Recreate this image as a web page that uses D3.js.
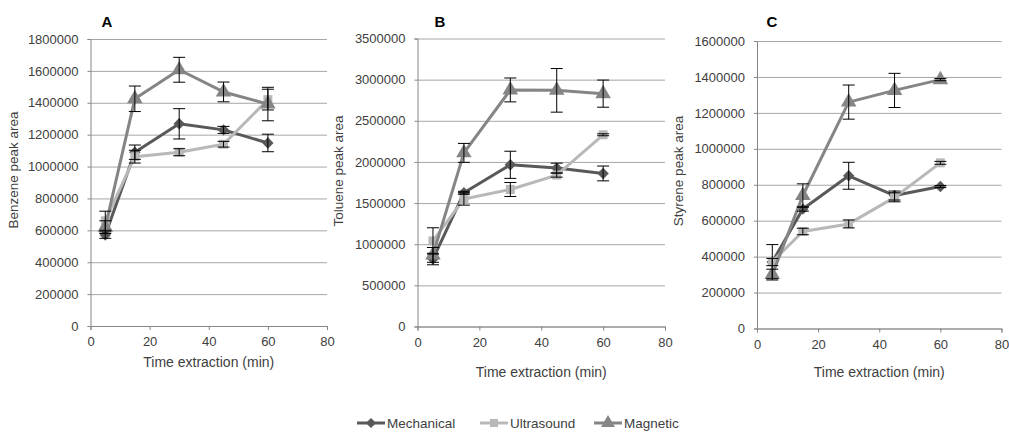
<!DOCTYPE html>
<html lang="en">
<head>
<meta charset="UTF-8">
<title>Peak area vs extraction time</title>
<script src="https://d3js.org/d3.v7.min.js"></script>
<style>
  body { margin: 0; background: #fff; }
  svg text { font-family: 'Liberation Sans', Arial, sans-serif; fill: #404040; }
</style>
</head>
<body>
<div id="chart"></div>
<script>
// x values shared by every series
const times = [5, 15, 30, 45, 60];
const xTicks = [0, 20, 40, 60, 80];
const seriesNames = ['Mechanical', 'Ultrasound', 'Magnetic'];

// A - benzene
const benzeneMechanical = [570000, 1090000, 1268000, 1230000, 1148000];
const benzeneMechanicalErr = [20000, 45000, 95000, 22000, 55000];
const benzeneUltrasound = [660000, 1062000, 1090000, 1140000, 1420000];
const benzeneUltrasoundErr = [60000, 40000, 22000, 18000, 65000];
const benzeneMagnetic = [620000, 1425000, 1607000, 1468000, 1392000];
const benzeneMagneticErr = [40000, 80000, 78000, 62000, 105000];
const benzeneTicks = [0, 200000, 400000, 600000, 800000, 1000000, 1200000, 1400000, 1600000, 1800000];

// B - toluene
const tolueneMechanical = [820000, 1625000, 1965000, 1925000, 1860000];
const tolueneMechanicalErr = [70000, 18000, 165000, 60000, 90000];
const tolueneUltrasound = [1040000, 1550000, 1665000, 1840000, 2330000];
const tolueneUltrasoundErr = [160000, 75000, 85000, 25000, 12000];
const tolueneMagnetic = [870000, 2110000, 2875000, 2870000, 2830000];
const tolueneMagneticErr = [90000, 115000, 145000, 265000, 165000];
const tolueneTicks = [0, 500000, 1000000, 1500000, 2000000, 2500000, 3000000, 3500000];

// C - styrene
const styreneMechanical = [370000, 665000, 850000, 740000, 790000];
const styreneMechanicalErr = [20000, 12000, 75000, 25000, 6000];
const styreneUltrasound = [372000, 540000, 582000, 730000, 922000];
const styreneUltrasoundErr = [95000, 18000, 22000, 25000, 8000];
const styreneMagnetic = [300000, 740000, 1260000, 1325000, 1385000];
const styreneMagneticErr = [30000, 65000, 95000, 95000, 6000];
const styreneTicks = [0, 200000, 400000, 600000, 800000, 1000000, 1200000, 1400000, 1600000];

const colors = ['#595959', '#b8b8b8', '#858585'];
const symbols = [d3.symbolSquare, d3.symbolSquare, d3.symbolTriangle];
const symbolSizes = [65, 80, 105];
const rotations = [45, 0, 0];

const panels = [
  { title: 'A', ylabel: 'Benzene peak area', ticks: benzeneTicks,
    data: [[benzeneMechanical, benzeneMechanicalErr], [benzeneUltrasound, benzeneUltrasoundErr], [benzeneMagnetic, benzeneMagneticErr]],
    left: 90.5, right: 327, top: 39, bottom: 326, titleX: 107, ylabelX: 18, ylabelY: 170, xlabelY: 367 },
  { title: 'B', ylabel: 'Toluene peak area', ticks: tolueneTicks,
    data: [[tolueneMechanical, tolueneMechanicalErr], [tolueneUltrasound, tolueneUltrasoundErr], [tolueneMagnetic, tolueneMagneticErr]],
    left: 417.5, right: 665, top: 38.5, bottom: 326.5, titleX: 440, ylabelX: 343, ylabelY: 171, xlabelY: 377 },
  { title: 'C', ylabel: 'Styrene peak area', ticks: styreneTicks,
    data: [[styreneMechanical, styreneMechanicalErr], [styreneUltrasound, styreneUltrasoundErr], [styreneMagnetic, styreneMagneticErr]],
    left: 757, right: 1001.5, top: 41, bottom: 328.5, titleX: 772, ylabelX: 683, ylabelY: 171, xlabelY: 377 }
];

const svg = d3.select('#chart').append('svg')
  .attr('width', 1009).attr('height', 432);

panels.forEach(p => {
  const x = d3.scaleLinear().domain([0, 80]).range([p.left, p.right]);
  const y = d3.scaleLinear().domain([0, d3.max(p.ticks)]).range([p.bottom, p.top]);
  const g = svg.append('g');

  // gridlines
  g.append('g')
    .attr('transform', `translate(${p.left},0)`)
    .call(d3.axisLeft(y).tickValues(p.ticks).tickSize(-(p.right - p.left)).tickFormat(''))
    .call(a => a.select('.domain').remove())
    .call(a => a.selectAll('line').attr('stroke', '#a6a6a6').attr('stroke-width', 1));

  // y axis
  g.append('g')
    .attr('transform', `translate(${p.left},0)`)
    .call(d3.axisLeft(y).tickValues(p.ticks).tickSize(3).tickPadding(9).tickFormat(d3.format('d')))
    .call(a => a.select('.domain').attr('stroke', '#868686'))
    .call(a => a.selectAll('line').attr('stroke', '#868686'))
    .call(a => a.selectAll('text').style('font-size', '13px').attr('fill', '#404040'));

  // x axis
  g.append('g')
    .attr('transform', `translate(0,${p.bottom})`)
    .call(d3.axisBottom(x).tickValues(xTicks).tickSize(4).tickPadding(7))
    .call(a => a.select('.domain').attr('stroke', '#868686'))
    .call(a => a.selectAll('line').attr('stroke', '#868686'))
    .call(a => a.selectAll('text').style('font-size', '13px').attr('fill', '#404040'));

  // series lines and markers
  p.data.forEach((s, i) => {
    const pts = times.map((t, k) => ({ t, v: s[0][k], e: s[1][k] }));
    g.append('path').datum(pts)
      .attr('fill', 'none').attr('stroke', colors[i]).attr('stroke-width', 3)
      .attr('stroke-linejoin', 'round')
      .attr('d', d3.line().x(d => x(d.t)).y(d => y(d.v)));
    g.selectAll(null).data(pts).enter().append('path')
      .attr('d', d3.symbol().type(symbols[i]).size(symbolSizes[i]))
      .attr('transform', d => `translate(${x(d.t)},${y(d.v)}) rotate(${rotations[i]})`)
      .attr('fill', colors[i]);
  });

  // error bars on top
  p.data.forEach(s => {
    const pts = times.map((t, k) => ({ t, v: s[0][k], e: s[1][k] }));
    const eb = g.selectAll(null).data(pts).enter().append('g').attr('stroke', '#000').attr('stroke-width', 1);
    eb.append('line')
      .attr('x1', d => x(d.t)).attr('x2', d => x(d.t))
      .attr('y1', d => y(d.v - d.e)).attr('y2', d => y(d.v + d.e));
    eb.append('line')
      .attr('x1', d => x(d.t) - 6).attr('x2', d => x(d.t) + 6)
      .attr('y1', d => y(d.v + d.e)).attr('y2', d => y(d.v + d.e));
    eb.append('line')
      .attr('x1', d => x(d.t) - 6).attr('x2', d => x(d.t) + 6)
      .attr('y1', d => y(d.v - d.e)).attr('y2', d => y(d.v - d.e));
  });

  // titles
  g.append('text').attr('x', p.titleX).attr('y', 27)
    .attr('text-anchor', 'middle').style('font-size', '15px').style('font-weight', 'bold')
    .style('fill', '#000').text(p.title);
  g.append('text')
    .attr('transform', `translate(${p.ylabelX},${p.ylabelY}) rotate(-90)`)
    .attr('text-anchor', 'middle').style('font-size', '13.5px').text(p.ylabel);
  g.append('text').attr('x', (p.left + p.right) / 2).attr('y', p.xlabelY)
    .attr('text-anchor', 'middle').style('font-size', '14px').text('Time extraction (min)');
});

// legend
const legendX = [357, 480, 594];
const legend = svg.append('g');
seriesNames.forEach((name, i) => {
  const lg = legend.append('g').attr('transform', `translate(${legendX[i]},423)`);
  lg.append('line').attr('x1', 0).attr('x2', 28).attr('stroke', colors[i]).attr('stroke-width', 3);
  lg.append('path').attr('d', d3.symbol().type(symbols[i]).size(symbolSizes[i] * 0.8))
    .attr('transform', `translate(14,0) rotate(${rotations[i]})`).attr('fill', colors[i]);
  lg.append('text').attr('x', 30).attr('y', 5).style('font-size', '13.5px').text(name);
});
</script>
</body>
</html>
